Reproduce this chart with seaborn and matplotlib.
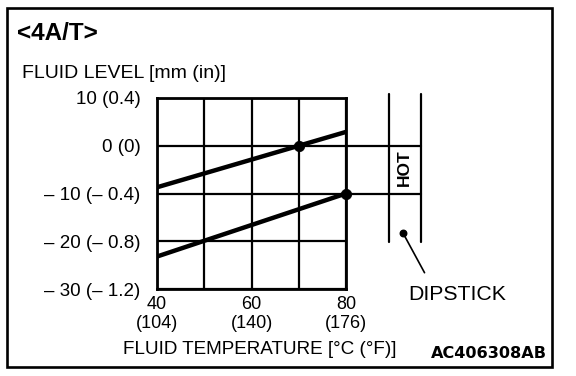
import pandas as pd
import seaborn as sns
import matplotlib.pyplot as plt
from matplotlib.patches import Rectangle

# fluid level vs fluid temperature
temp_c = [40, 80]
upper_level = [-8.7, 2.9]
lower_level = [-23.2, -10.0]
dot_temp = [70, 80]
dot_level = [0, -10]

x_ticks = [40, 60, 80]
x_labels_c = ["40", "60", "80"]
x_labels_f = ["(104)", "(140)", "(176)"]
y_ticks = [10, 0, -10, -20, -30]
y_labels = ["10 (0.4)", "0 (0)", "– 10 (– 0.4)", "– 20 (– 0.8)", "– 30 (– 1.2)"]

df = pd.DataFrame({
    "temp": temp_c * 2,
    "level": upper_level + lower_level,
    "line": ["upper"] * 2 + ["lower"] * 2,
})

sns.set_style("white")
plt.rcParams["font.family"] = ["Liberation Sans", "DejaVu Sans"]
plt.rcParams["text.color"] = "black"

fig = plt.figure(figsize=(5.76, 3.76), dpi=100)
ax = fig.add_axes([157 / 576, 1 - 289 / 376, 189 / 576, 191 / 376])

sns.lineplot(data=df, x="temp", y="level", units="line", estimator=None,
             color="black", lw=3.2, ax=ax, legend=False, zorder=3)
sns.scatterplot(x=dot_temp, y=dot_level, color="black", s=55, ax=ax,
                zorder=4, clip_on=False, edgecolor="black")

ax.set_xlim(40, 80)
ax.set_ylim(-30, 10)
ax.set_xticks(x_ticks)
ax.set_xticks([50, 70], minor=True)
ax.set_xticklabels([c + "\n" + f for c, f in zip(x_labels_c, x_labels_f)],
                   fontsize=13, linespacing=1.15)
ax.set_yticks(y_ticks)
ax.set_yticklabels(y_labels, fontsize=13.5)
ax.tick_params(axis="both", which="both", length=0, colors="black")
ax.tick_params(axis="y", pad=12)
ax.tick_params(axis="x", pad=5)
ax.grid(True, which="both", color="black", lw=1.6)
ax.set_xlabel("")
ax.set_ylabel("")
for sp in ax.spines.values():
    sp.set_visible(True)
    sp.set_color("black")
    sp.set_linewidth(2)

# lines running out to the dipstick
for lvl in [0, -10]:
    ax.plot([80, 95.9], [lvl, lvl], color="black", lw=1.6, clip_on=False)
for xx in [89.1, 95.9]:
    ax.plot([xx, xx], [10.8, -20.2], color="black", lw=1.6, clip_on=False)
ax.text(92.4, -4.5, "HOT", rotation=90, ha="center", va="center",
        fontsize=12.5, fontweight="bold")
ax.annotate("", xy=(92.06, -18.27), xytext=(96.9, -27.1),
            arrowprops=dict(arrowstyle="-", color="black", lw=1.2),
            annotation_clip=False)
ax.scatter([92.06], [-18.27], color="black", s=22, clip_on=False, zorder=4)
ax.text(103.6, -31.2, "DIPSTICK", ha="center", va="center", fontsize=15.3)

fig.text(17 / 576, 1 - 34 / 376, "<4A/T>", ha="left", va="center",
         fontsize=17.5, fontweight="bold")
fig.text(22 / 576, 1 - 74 / 376, "FLUID LEVEL [mm (in)]", ha="left",
         va="center", fontsize=14)
fig.text(259.5 / 576, 1 - 349 / 376, "FLUID TEMPERATURE [°C (°F)]",
         ha="center", va="center", fontsize=13.6)
fig.text(547 / 576, 1 - 354 / 376, "AC406308AB", ha="right", va="center",
         fontsize=11.6, fontweight="bold", family="DejaVu Sans")

fig.patches.append(Rectangle((7 / 576, 1 - 367 / 376), 545 / 576, 359 / 376,
                             transform=fig.transFigure, fill=False,
                             edgecolor="black", lw=1.9))

fig.savefig("out.png", dpi=100)
